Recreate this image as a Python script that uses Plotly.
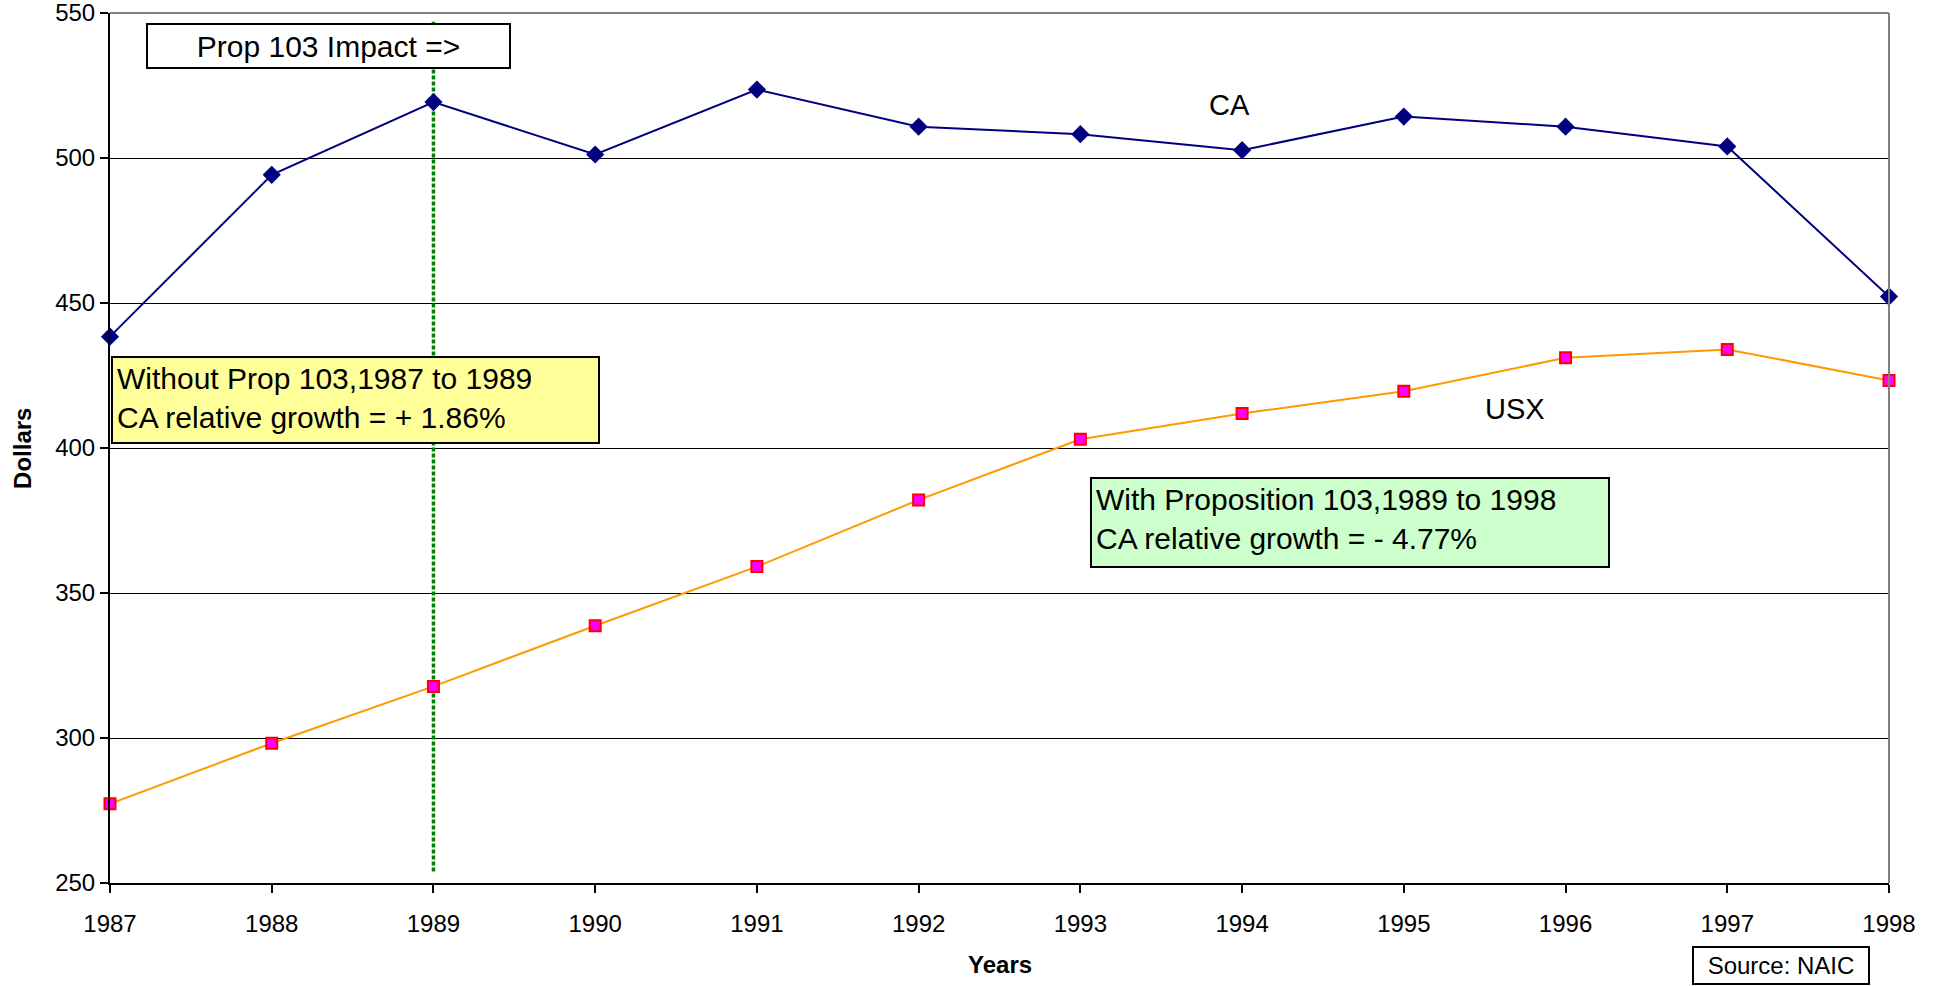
import plotly.graph_objects as go

years = [1987, 1988, 1989, 1990, 1991, 1992, 1993, 1994, 1995, 1996, 1997, 1998]
ca = [438.4, 494.2, 519.3, 501.2, 523.6, 510.8, 508.2, 502.7, 514.3, 510.8, 504.0, 452.2]
usx = [277.3, 298.2, 317.8, 338.7, 359.1, 382.1, 403.0, 411.9, 419.6, 431.1, 434.0, 423.3]
y_ticks = [250, 300, 350, 400, 450, 500, 550]
impact_year = 1989
impact_span = [254, 547]

FONT = "Arial, Liberation Sans, sans-serif"

fig = go.Figure()

fig.add_trace(go.Scatter(
    x=[impact_year, impact_year], y=impact_span, mode="lines",
    line=dict(color="#008000", width=3.5, dash="4px,2px"), showlegend=False, hoverinfo="skip"))

fig.add_trace(go.Scatter(
    x=years, y=ca, mode="lines+markers", name="CA",
    line=dict(color="#000080", width=2),
    marker=dict(symbol="diamond", size=14, color="#000080"),
    cliponaxis=False, showlegend=False))

fig.add_trace(go.Scatter(
    x=years, y=usx, mode="lines+markers", name="USX",
    line=dict(color="#FF9900", width=2),
    marker=dict(symbol="square", size=11, color="#FF00FF", line=dict(color="#FF0000", width=2)),
    cliponaxis=False, showlegend=False))

annotations = [
    dict(text="CA", x=1993.92, y=518.3, xref="x", yref="y", showarrow=False,
         xanchor="center", yanchor="middle",
         font=dict(size=29, color="black", family=FONT)),
    dict(text="USX", x=1995.69, y=413.4, xref="x", yref="y", showarrow=False,
         xanchor="center", yanchor="middle",
         font=dict(size=29, color="black", family=FONT)),
    dict(text="Prop 103 Impact =>", x=0.1228, y=0.962, xref="paper", yref="paper",
         xanchor="center", yanchor="middle",
         showarrow=False, width=359, height=40, bgcolor="white", bordercolor="black",
         borderwidth=2, borderpad=1, align="center", valign="middle",
         font=dict(size=30, color="black", family=FONT)),
    dict(text="Without Prop 103,1987 to 1989<br>CA relative growth = + 1.86%",
         x=0.138, y=0.5552, xref="paper", yref="paper", showarrow=False,
         xanchor="center", yanchor="middle",
         width=477, height=76, bgcolor="#FFFF99", bordercolor="black",
         borderwidth=2, borderpad=4, align="left", valign="top",
         font=dict(size=30, color="black", family=FONT)),
    dict(text="With Proposition 103,1989 to 1998<br>CA relative growth = - 4.77%",
         x=0.697, y=0.4144, xref="paper", yref="paper", showarrow=False,
         xanchor="center", yanchor="middle",
         width=508, height=79, bgcolor="#CCFFCC", bordercolor="black",
         borderwidth=2, borderpad=4, align="left", valign="top",
         font=dict(size=30, color="black", family=FONT)),
    dict(text="Source: NAIC", x=0.9393, y=-0.0948, xref="paper", yref="paper",
         xanchor="center", yanchor="middle",
         showarrow=False, width=172, height=33, bgcolor="white", bordercolor="black",
         borderwidth=2, borderpad=1, align="center", valign="middle",
         font=dict(size=24, color="black", family=FONT)),
    dict(text="<b>Years</b>", x=0.5, y=-0.094, xref="paper", yref="paper",
         xanchor="center", yanchor="middle",
         showarrow=False, font=dict(size=24, color="black", family=FONT)),
    dict(text="<b>Dollars</b>", x=-0.0495, y=0.5, xref="paper", yref="paper",
         xanchor="center", yanchor="middle",
         showarrow=False, textangle=-90, font=dict(size=24, color="black", family=FONT)),
]

shapes = [
    dict(type="line", xref="paper", yref="paper", x0=0, x1=1, y0=1, y1=1,
         line=dict(color="#808080", width=2)),
    dict(type="line", xref="paper", yref="paper", x0=1, x1=1, y0=0, y1=1,
         line=dict(color="#808080", width=2)),
]

fig.update_layout(
    width=1937, height=986,
    margin=dict(l=110, r=48, t=13, b=103),
    paper_bgcolor="white", plot_bgcolor="white",
    font=dict(family=FONT, size=24, color="black"),
    annotations=annotations, shapes=shapes,
    xaxis=dict(range=[1987, 1998], tickvals=years, ticktext=[str(y) for y in years],
               showgrid=False, zeroline=False, showline=True, linecolor="black", linewidth=2,
               ticks="outside", ticklen=8, tickwidth=2, tickcolor="black",
               tickfont=dict(size=24, family=FONT), ticklabelstandoff=10,
               ticklabeloverflow="allow", automargin=False),
    yaxis=dict(range=[250, 550], tickvals=y_ticks, showgrid=True, gridcolor="black",
               gridwidth=1, zeroline=False, showline=True, linecolor="black", linewidth=2,
               ticks="outside", ticklen=8, tickwidth=2, tickcolor="black",
               tickfont=dict(size=24, family=FONT), ticklabeloverflow="allow",
               automargin=False),
)

fig.write_html("out.html", config={"displayModeBar": False},
               post_script="document.body.style.margin='0px';document.body.style.overflow='hidden';")
